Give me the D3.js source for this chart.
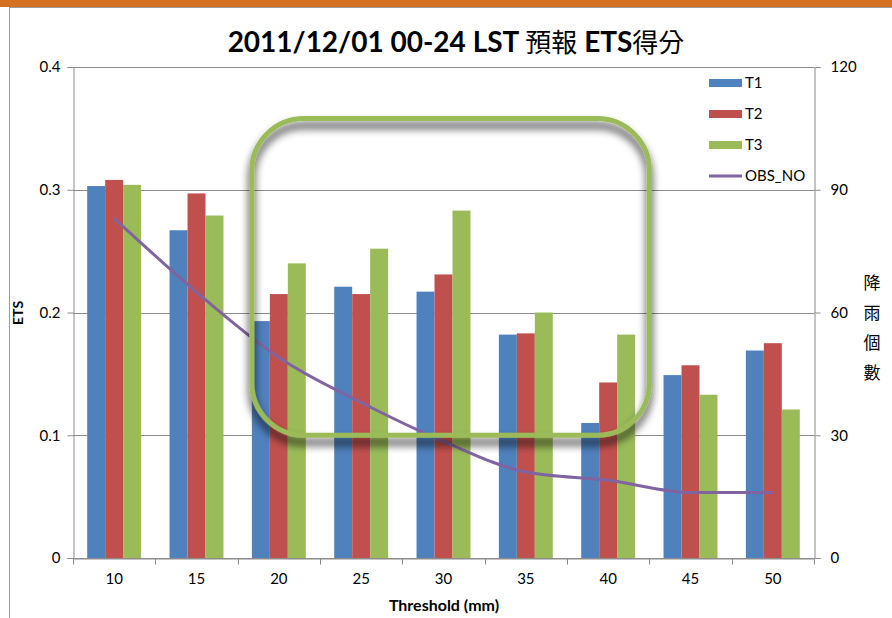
<!DOCTYPE html>
<html>
<head>
<meta charset="utf-8">
<script src="https://cdn.jsdelivr.net/npm/d3@7/dist/d3.min.js"></script>
<style>
  body { margin: 0; background: #fff; }
  text { font-family: Lato, "Noto Sans CJK TC", sans-serif; fill: #000; }
</style>
</head>
<body>
<div id="chart"></div>
<script>
// data
var categories = ['10', '15', '20', '25', '30', '35', '40', '45', '50'];
var t1 = [0.303, 0.267, 0.193, 0.221, 0.217, 0.182, 0.110, 0.149, 0.169];
var t2 = [0.308, 0.297, 0.215, 0.215, 0.231, 0.183, 0.143, 0.157, 0.175];
var t3 = [0.304, 0.279, 0.240, 0.252, 0.283, 0.200, 0.182, 0.133, 0.121];
var obs_no = [83, 65, 49, 38, 28.5, 21, 19, 16, 16];
var leftTicks = [0, 0.1, 0.2, 0.3, 0.4];
var rightTicks = [0, 30, 60, 90, 120];
var seriesNames = ['T1', 'T2', 'T3'];

var width = 892, height = 618;
var plotLeft = 73, plotRight = 814, plotTop = 67, plotBottom = 558;

var colors = {'T1': '#4f81bd', 'T2': '#c0504d', 'T3': '#9bbb59', 'OBS_NO': '#8064a2'};

var svg = d3.select('#chart').append('svg')
    .attr('width', width)
    .attr('height', height);

var defs = svg.append('defs');
var f = defs.append('filter').attr('id', 'shadow')
    .attr('x', '-10%').attr('y', '-10%').attr('width', '120%').attr('height', '125%');
f.append('feDropShadow')
    .attr('dx', 0).attr('dy', 7)
    .attr('stdDeviation', 4)
    .attr('flood-color', '#000')
    .attr('flood-opacity', 0.85);

// slide frame
svg.append('rect').attr('x', 0).attr('y', 0).attr('width', width).attr('height', 7)
    .attr('fill', '#d57021');
svg.append('line').attr('x1', 9.5).attr('x2', width).attr('y1', 7.5).attr('y2', 7.5)
    .attr('stroke', '#9a9a9a');
svg.append('line').attr('x1', 9.5).attr('x2', 9.5).attr('y1', 7).attr('y2', height)
    .attr('stroke', '#9a9a9a');

var x0 = d3.scaleBand().domain(categories).range([plotLeft, plotRight]);
var x1 = d3.scaleBand().domain(seriesNames).range([0, x0.bandwidth()]).paddingOuter(0.79);
var y = d3.scaleLinear().domain([0, 0.4]).range([plotBottom, plotTop]);
var y2 = d3.scaleLinear().domain([0, 120]).range([plotBottom, plotTop]);

// gridlines
svg.append('g').selectAll('line')
    .data(leftTicks)
    .join('line')
    .attr('x1', plotLeft).attr('x2', plotRight)
    .attr('y1', function(d) { return Math.round(y(d)) + 0.5; })
    .attr('y2', function(d) { return Math.round(y(d)) + 0.5; })
    .attr('stroke', '#8c8c8c');

// bars
var rows = categories.map(function(c, i) {
  return {cat: c, values: [
    {key: 'T1', value: t1[i]},
    {key: 'T2', value: t2[i]},
    {key: 'T3', value: t3[i]}
  ]};
});

svg.append('g').selectAll('g')
    .data(rows)
    .join('g')
    .attr('transform', function(d) { return 'translate(' + x0(d.cat) + ',0)'; })
  .selectAll('rect')
    .data(function(d) { return d.values; })
    .join('rect')
    .attr('x', function(d) { return x1(d.key); })
    .attr('width', x1.bandwidth())
    .attr('y', function(d) { return y(d.value); })
    .attr('height', function(d) { return y(0) - y(d.value); })
    .attr('fill', function(d) { return colors[d.key]; });

// OBS_NO line
var line = d3.line()
    .x(function(d, i) { return x0(categories[i]) + x0.bandwidth() / 2; })
    .y(function(d) { return y2(d); })
    .curve(d3.curveMonotoneX);

svg.append('path')
    .datum(obs_no)
    .attr('d', line)
    .attr('fill', 'none')
    .attr('stroke', colors['OBS_NO'])
    .attr('stroke-width', 3)
    .attr('stroke-linejoin', 'round');

// axes
var yAxis = svg.append('g')
    .attr('transform', 'translate(' + (plotLeft + 0.5) + ',0)')
    .call(d3.axisLeft(y).tickValues(leftTicks).tickSize(6).tickPadding(7)
      .tickFormat(function(d) { return d === 0 ? '0' : d3.format('.1f')(d); }));
var y2Axis = svg.append('g')
    .attr('transform', 'translate(' + (plotRight + 0.5) + ',0)')
    .call(d3.axisRight(y2).tickValues(rightTicks).tickSize(6).tickPadding(10));
var xAxis = svg.append('g')
    .attr('transform', 'translate(0,' + (plotBottom + 0.5) + ')')
    .call(d3.axisBottom(x0).tickSize(0).tickSizeOuter(0).tickPadding(15));

// x ticks sit between the categories
xAxis.selectAll('.boundary')
    .data(d3.range(categories.length + 1))
    .join('line')
    .attr('class', 'boundary')
    .attr('x1', function(i) { return Math.round(plotLeft + i * x0.step()) + 0.5; })
    .attr('x2', function(i) { return Math.round(plotLeft + i * x0.step()) + 0.5; })
    .attr('y1', 0).attr('y2', 6);

[yAxis, y2Axis, xAxis].forEach(function(a) {
  a.selectAll('path, line').attr('stroke', '#8c8c8c');
  a.selectAll('text').style('font-size', '15px').style('font-family', 'Lato, sans-serif').attr('fill', '#000');
});

// titles
var title = svg.append('text')
    .attr('x', 456).attr('y', 52)
    .attr('text-anchor', 'middle')
    .style('font-size', '28px');
title.append('tspan').style('font-weight', 'bold').text('2011/12/01 00-24 LST ');
title.append('tspan').style('font-family', '"Noto Sans CJK TC"').style('font-size', '26px').text('預報');
title.append('tspan').style('font-weight', 'bold').text(' ETS');
title.append('tspan').style('font-family', '"Noto Sans CJK TC"').style('font-size', '26px').text('得分');

svg.append('text')
    .attr('transform', 'translate(23,313) rotate(-90)')
    .attr('text-anchor', 'middle')
    .style('font-weight', 'bold')
    .style('font-size', '14px')
    .text('ETS');

svg.append('text')
    .attr('x', 444).attr('y', 611)
    .attr('text-anchor', 'middle')
    .style('font-weight', 'bold')
    .style('font-size', '16px')
    .text('Threshold (mm)');

svg.append('g').selectAll('text')
    .data('降雨個數'.split(''))
    .join('text')
    .attr('x', 872)
    .attr('y', function(d, i) { return 289 + i * 30; })
    .attr('text-anchor', 'middle')
    .style('font-family', '"Noto Sans CJK TC"')
    .style('font-size', '17px')
    .text(function(d) { return d; });

// legend
var legendItems = seriesNames.concat(['OBS_NO']);
var lg = svg.append('g').selectAll('g')
    .data(legendItems)
    .join('g')
    .attr('transform', function(d, i) { return 'translate(709,' + (83 + i * 31) + ')'; });
lg.filter(function(d) { return d !== 'OBS_NO'; })
    .append('rect')
    .attr('x', 0).attr('y', -4).attr('width', 33).attr('height', 8)
    .attr('fill', function(d) { return colors[d]; });
lg.filter(function(d) { return d === 'OBS_NO'; })
    .append('line')
    .attr('x1', 0).attr('x2', 33).attr('y1', 0).attr('y2', 0)
    .attr('stroke', colors['OBS_NO']).attr('stroke-width', 3);
lg.append('text')
    .attr('x', 36).attr('dy', '0.35em')
    .style('font-size', '15px')
    .text(function(d) { return d; });

// highlight box drawn over the chart
var boxLeft = x0('20') + x1('T1');
var boxRight = x0('40') + x0.bandwidth();
svg.append('rect')
    .attr('x', boxLeft)
    .attr('y', y(0.358))
    .attr('width', boxRight - boxLeft)
    .attr('height', y(0.1) - y(0.358))
    .attr('rx', 52).attr('ry', 52)
    .attr('fill', 'none')
    .attr('stroke', '#9bbb59')
    .attr('stroke-width', 5)
    .attr('filter', 'url(#shadow)');
</script>
</body>
</html>
